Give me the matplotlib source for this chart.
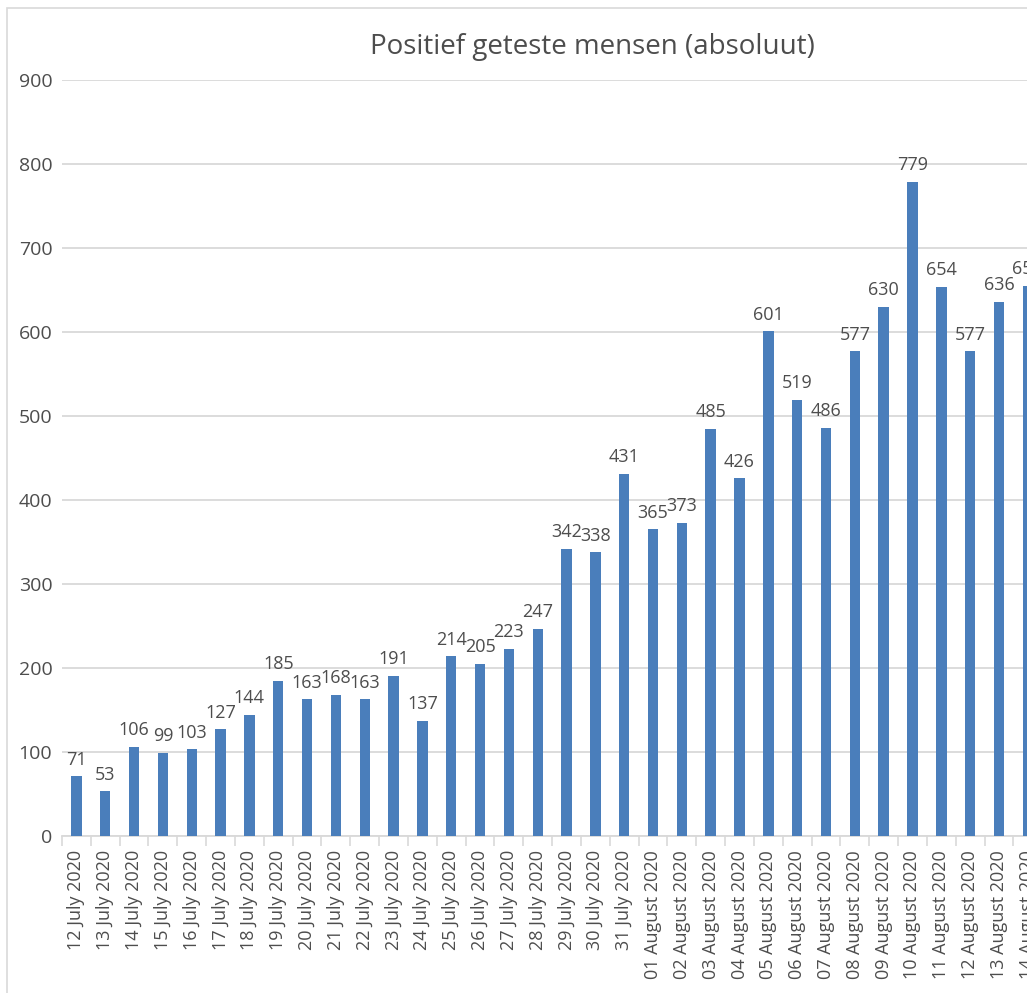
import matplotlib
matplotlib.use('agg')
import matplotlib.pyplot as plt
from matplotlib.patches import Rectangle
from matplotlib.ticker import FixedLocator

plt.rcParams['font.family'] = ['Open Sans', 'DejaVu Sans']

DATES = ['12 July 2020', '13 July 2020', '14 July 2020', '15 July 2020', '16 July 2020',
         '17 July 2020', '18 July 2020', '19 July 2020', '20 July 2020', '21 July 2020',
         '22 July 2020', '23 July 2020', '24 July 2020', '25 July 2020', '26 July 2020',
         '27 July 2020', '28 July 2020', '29 July 2020', '30 July 2020', '31 July 2020',
         '01 August 2020', '02 August 2020', '03 August 2020', '04 August 2020',
         '05 August 2020', '06 August 2020', '07 August 2020', '08 August 2020',
         '09 August 2020', '10 August 2020', '11 August 2020', '12 August 2020',
         '13 August 2020', '14 August 2020']
POSITIVE = [71, 53, 106, 99, 103, 127, 144, 185, 163, 168, 163, 191, 137, 214, 205,
            223, 247, 342, 338, 431, 365, 373, 485, 426, 601, 519, 486, 577, 630, 779,
            654, 577, 636, 655]
Y_TICKS = [0, 100, 200, 300, 400, 500, 600, 700, 800, 900]

BLUE = '#4a7ebb'
TEXT = '#4d4d4d'
GRID = '#d9d9d9'

W, H = 1027, 993
fig = plt.figure(figsize=(W / 100, H / 100), dpi=100)

# chart frame (cut off at the right like the screenshot)
fig.patches.append(Rectangle((7 / W, -0.1), 1.2, 1.1 - 8 / H, transform=fig.transFigure,
                             fill=False, edgecolor='#d9d9d9', linewidth=1.2))

step = 28.83
left = 62
ax = fig.add_axes([left / W, 1 - 836 / H, len(DATES) * step / W, (836 - 80) / H])
x = range(len(DATES))
ax.bar(x, POSITIVE, width=0.36, color=BLUE, zorder=3)
for i, v in zip(x, POSITIVE):
    ax.text(i, v + 9, str(v), ha='center', va='bottom', fontsize=13, color=TEXT)

ax.set_xlim(-0.5, len(DATES) - 0.5)
ax.set_ylim(0, 900)
ax.set_yticks(Y_TICKS)
ax.yaxis.grid(True, color=GRID, linewidth=1.3, zorder=0)
ax.tick_params(axis='y', length=0, pad=7, labelsize=14, labelcolor=TEXT)
ax.set_xticks(list(x))
ax.set_xticklabels(DATES, rotation=90, fontsize=13, color=TEXT)
ax.tick_params(axis='x', which='major', length=0, pad=10)
ax.xaxis.set_minor_locator(FixedLocator([i - 0.5 for i in range(len(DATES) + 1)]))
ax.tick_params(axis='x', which='minor', length=7, color=GRID, width=1.2)
for s in ['top', 'right', 'left']:
    ax.spines[s].set_visible(False)
ax.spines['bottom'].set_color(GRID)
ax.spines['bottom'].set_linewidth(1.3)

fig.text(592 / W, 1 - 47 / H, 'Positief geteste mensen (absoluut)', ha='center',
         va='center', fontsize=20, color=TEXT)

fig.savefig('out.png', dpi=100)
